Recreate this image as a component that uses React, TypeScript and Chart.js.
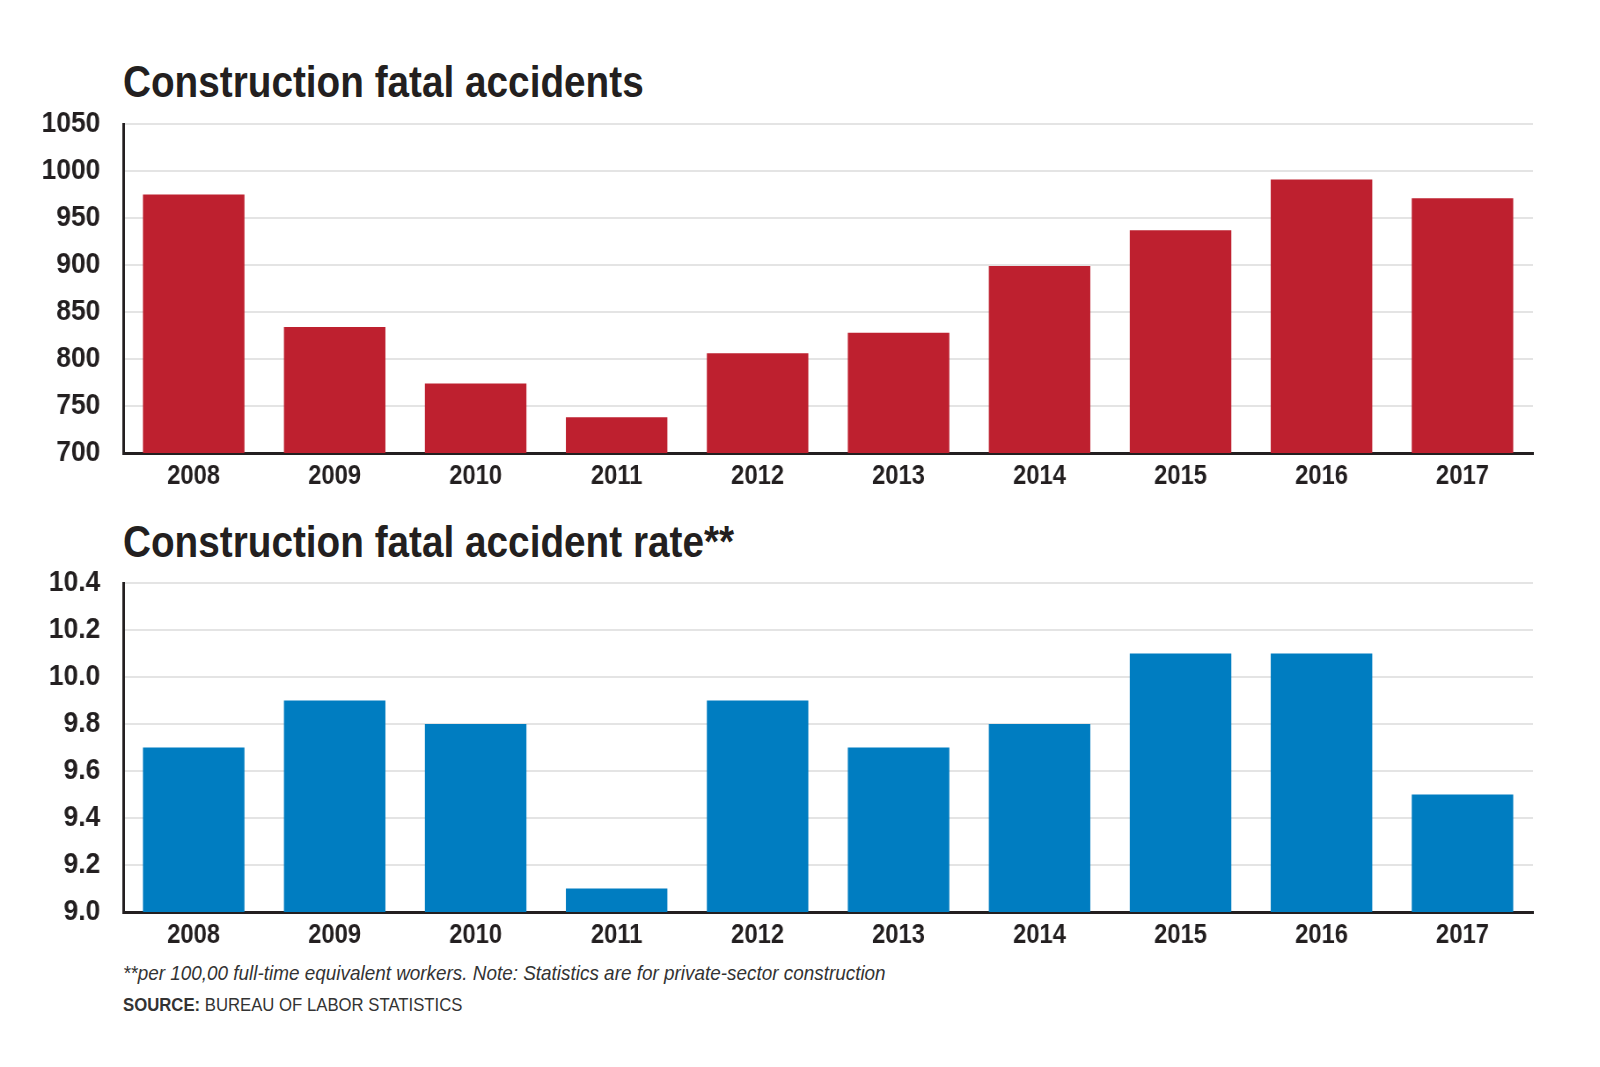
import { useEffect, useRef } from "react";
import { Chart, registerables } from "chart.js";

Chart.register(...registerables);

const years = ["2008", "2009", "2010", "2011", "2012", "2013", "2014", "2015", "2016", "2017"];
const fatalAccidents = [975, 834, 774, 738, 806, 828, 899, 937, 991, 971];
const fatalRate = [9.7, 9.9, 9.8, 9.1, 9.9, 9.7, 9.8, 10.1, 10.1, 9.5];

const FONT = '"Liberation Sans", Arial, sans-serif';
const INK = "#231f20";
// the source uses a condensed face; squeeze text horizontally to match
const SQUEEZE = 0.88;
const PANEL_W = 1560;
const INNER_W = Math.round(PANEL_W / SQUEEZE);

function makeOptions(min: number, max: number, step: number, decimals: number, xHeight: number, padTop: number) {
  return {
    responsive: false,
    animation: false as const,
    layout: { padding: { top: padTop, right: Math.round(27 / SQUEEZE), left: 0, bottom: 0 } },
    plugins: { legend: { display: false }, tooltip: { enabled: false } },
    scales: {
      x: {
        grid: { display: false, drawTicks: false },
        border: { color: INK, width: 3 },
        ticks: {
          color: INK,
          padding: 7,
          font: { family: FONT, size: 27, weight: "bold" as const },
        },
        afterFit: (scale: any) => {
          scale.height = xHeight;
        },
      },
      y: {
        min,
        max,
        grid: { color: "#e4e4e4", lineWidth: 2, drawTicks: false },
        border: { color: INK, width: 3 },
        ticks: {
          stepSize: step,
          color: INK,
          padding: 26,
          font: { family: FONT, size: 30, weight: "bold" as const },
          callback: (v: any) => Number(v).toFixed(decimals),
        },
        afterFit: (scale: any) => {
          scale.width = Math.round(123 / SQUEEZE);
        },
      },
    },
  };
}

function BarPanel(props: { values: number[]; color: string; min: number; max: number; step: number; decimals: number; top: number; height: number; xHeight: number; padTop: number }) {
  const canvasRef = useRef<HTMLCanvasElement | null>(null);

  useEffect(() => {
    if (!canvasRef.current) return;
    const chart = new Chart(canvasRef.current, {
      type: "bar",
      data: {
        labels: years,
        datasets: [
          {
            data: props.values,
            backgroundColor: props.color,
            categoryPercentage: 1,
            barPercentage: 0.72,
          },
        ],
      },
      options: makeOptions(props.min, props.max, props.step, props.decimals, props.xHeight, props.padTop) as any,
    });
    return () => chart.destroy();
  }, []);

  return (
    <div
      style={{
        position: "absolute",
        left: 0,
        top: props.top,
        width: INNER_W,
        height: props.height,
        transform: `scaleX(${SQUEEZE})`,
        transformOrigin: "0 0",
      }}
    >
      <canvas ref={canvasRef} width={INNER_W} height={props.height} />
    </div>
  );
}

function Text(props: { top: number; size: number; squeeze?: number; bold?: boolean; italic?: boolean; color?: string; children: any }) {
  return (
    <div
      style={{
        position: "absolute",
        left: 123,
        top: props.top,
        fontFamily: FONT,
        fontWeight: props.bold ? "bold" : "normal",
        fontStyle: props.italic ? "italic" : "normal",
        fontSize: props.size,
        lineHeight: 1,
        color: props.color || INK,
        whiteSpace: "nowrap",
        transform: `scaleX(${props.squeeze || SQUEEZE})`,
        transformOrigin: "0 0",
      }}
    >
      {props.children}
    </div>
  );
}

export default function App() {
  return (
    <div style={{ position: "absolute", left: 0, top: 0, width: 1600, height: 1067, background: "#fff", overflow: "hidden" }}>
      <Text top={60} size={44} bold>
        Construction fatal accidents
      </Text>
      <BarPanel values={fatalAccidents} color="#be202f" min={700} max={1050} step={50} decimals={0} top={80} height={420} xHeight={47} padTop={22} />
      <Text top={520} size={44} bold>
        Construction fatal accident rate**
      </Text>
      <BarPanel values={fatalRate} color="#007dc1" min={9.0} max={10.4} step={0.2} decimals={1} top={539} height={421} xHeight={48} padTop={20} />
      <Text top={962} size={21} squeeze={0.9} italic color="#333">
        **per 100,00 full-time equivalent workers. Note: Statistics are for private-sector construction
      </Text>
      <Text top={995} size={19} color="#333">
        <b>SOURCE:</b> BUREAU OF LABOR STATISTICS
      </Text>
    </div>
  );
}
